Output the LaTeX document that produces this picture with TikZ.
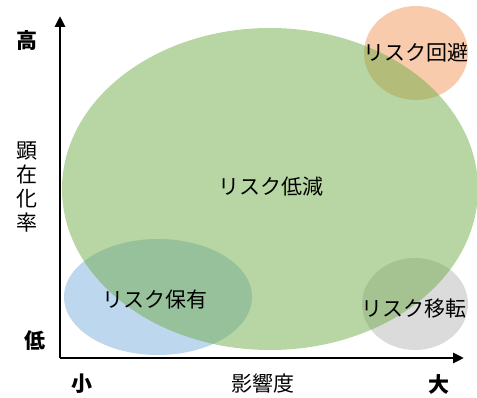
\documentclass[tikz,border=0pt]{standalone}
\usepackage{fontspec}
\newfontfamily\jpfont{Noto Sans CJK JP}
\usetikzlibrary{arrows.meta}
\definecolor{grn}{HTML}{70AD47}
\definecolor{blu}{HTML}{5B9BD5}
\definecolor{org}{HTML}{ED7D31}
\definecolor{gry}{HTML}{A5A5A5}
\tikzset{
	lbl/.style={font=\jpfont\fontsize{21}{24}\selectfont, inner sep=0pt},
	axlbl/.style={font=\jpfont\bfseries\fontsize{21}{24}\selectfont, inner sep=0pt},
	axis/.style={line width=2.8pt, -{Triangle[length=11pt,width=10pt]}}
}
\begin{document}
\begin{tikzpicture}[x=1pt, y=-1pt]
	\useasboundingbox (0,0) rectangle (477,398);
	\fill[blu, fill opacity=0.4] (158,297) ellipse (94pt and 58pt);		% Risiko halten
	\fill[org, fill opacity=0.4] (416,53) ellipse (52pt and 47pt);		% Risiko vermeiden
	\fill[gry, fill opacity=0.4] (415,304) ellipse (53pt and 46pt);		% Risiko transferieren
	\fill[grn, fill opacity=0.5] (270,189) ellipse (208pt and 161pt);	% Risiko mindern
	% Achsen
	\coordinate (o) at (60,358);
	\coordinate (ytop) at (60,16);
	\coordinate (xend) at (464,358);
	\draw[axis] (o) -- (ytop);
	\draw[axis] (o) -- (xend);
	% Achsenbeschriftung
	\node[axlbl] (hoch) at (27,41) {高};
	\node[axlbl] (tief) at (35,341) {低};
	\node[axlbl] (klein) at (82,384) {小};
	\node[axlbl] (gross) at (439,384) {大};
	\node[lbl] (einfluss) at (263,384) {影響度};
	\node[lbl, align=center] (rate) at (27,187) {顕\\在\\化\\率};
	% Bereiche
	\node[lbl] (mindern) at (271,187) {リスク低減};
	\node[lbl] (halten) at (155,300) {リスク保有};
	\node[lbl] (meiden) at (416,53) {リスク回避};
	\node[lbl] (transfer) at (414,309) {リスク移転};
\end{tikzpicture}
\end{document}
